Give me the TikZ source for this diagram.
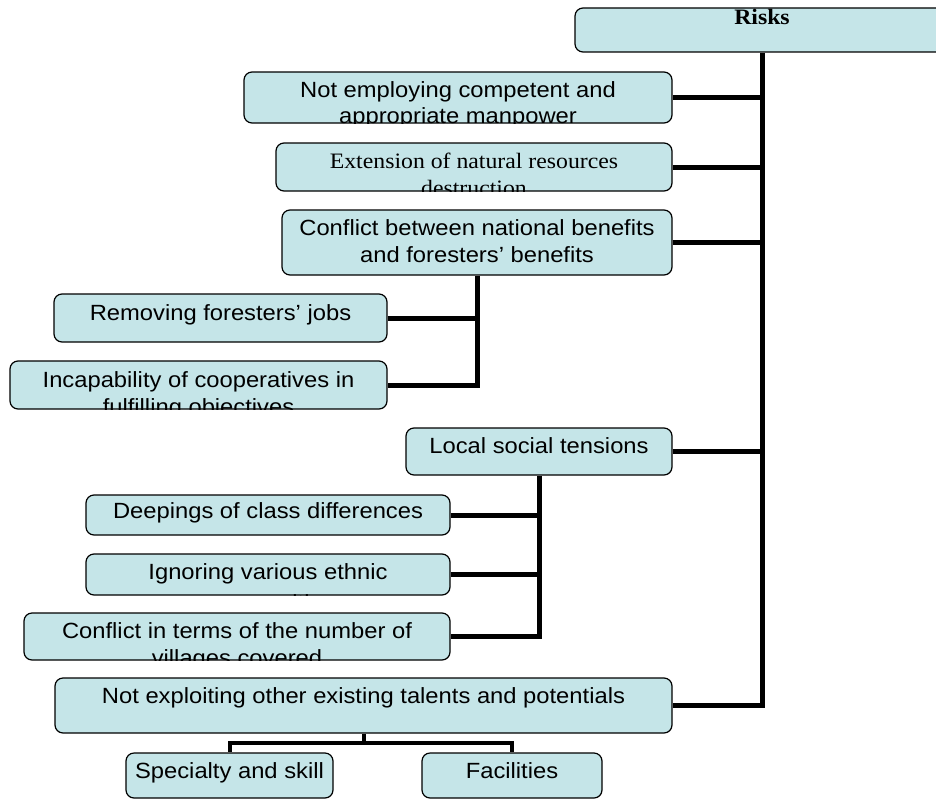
\documentclass[tikz,border=0pt]{standalone}
\usepackage{fontspec}
\setmainfont{Liberation Sans}[FakeStretch=1.08]
\newfontfamily\romanwide{Liberation Serif}[FakeStretch=1.08]
\usetikzlibrary{calc,backgrounds}
\definecolor{boxfill}{RGB}{197,229,232}

\tikzset{
  riskbox/.style={rectangle, draw=black, line width=1.2pt, fill=boxfill,
    rounded corners=8pt, inner sep=0pt},
  conn/.style={line width=5pt, draw=black},
  boxlabel/.style={anchor=base, inner sep=0pt,
    font=\fontsize{22pt}{26pt}\selectfont},
}

% #1 name, #2 centre x, #3 centre y, #4 width, #5 height,
% #6 top edge to first baseline, #7 first line,
% #8 top edge to second baseline, #9 second line (both clipped to the box)
\newcommand\riskitem[9]{%
  \node[riskbox, minimum width=#4pt, minimum height=#5pt,
    path picture={%
      \node[boxlabel] at ([yshift=-#6pt]path picture bounding box.north) {#7};
      \node[boxlabel] at ([yshift=-#8pt]path picture bounding box.north) {#9};}]
    (#1) at (#2,#3) {};}

\begin{document}
\begin{tikzpicture}[x=1pt, y=-1pt]
  \useasboundingbox (0,0) rectangle (936,800);
  \clip (0,0) rectangle (936,800);

  \riskitem{risks}{762}{30}{374}{44}{17}{\romanwide\bfseries Risks}{60}{}
  \riskitem{emp}{458}{97.5}{428}{51}{25}{Not employing competent and}{51}{appropriate manpower}
  \riskitem{ext}{474}{167}{396}{48}{25}{\romanwide Extension of natural resources}{52}{\romanwide destruction}
  \riskitem{cnat}{477}{242.5}{390}{65}{25}{Conflict between national benefits}{52}{and foresters’ benefits}
  \riskitem{remove}{220.5}{318}{333}{48}{26}{Removing foresters’ jobs}{80}{}
  \riskitem{incap}{198.5}{385}{377}{48}{26}{Incapability of cooperatives in}{53}{fulfilling objectives}
  \riskitem{local}{539}{451.5}{266}{47}{25}{Local social tensions}{80}{}
  \riskitem{deep}{268}{515}{364}{40}{23}{Deepings of class differences}{80}{}
  \riskitem{ignore}{268}{574.5}{364}{41}{25}{Ignoring various ethnic}{56}{communities}
  \riskitem{cterms}{237}{636.5}{426}{47}{25}{Conflict in terms of the number of}{52}{villages covered}
  \riskitem{notexp}{363.5}{705.5}{617}{55}{25}{Not exploiting other existing talents and potentials}{80}{}
  \riskitem{spec}{229.5}{775.5}{207}{45}{25}{Specialty and skill}{80}{}
  \riskitem{fac}{512}{775.5}{180}{45}{25}{Facilities}{80}{}

  \coordinate (fork) at ($(notexp.south)!0.5!(notexp.south |- spec.north)$);

  \begin{scope}[on background layer]
    % main trunk from the root down to the last branch
    \draw[conn] (risks.south) |- (notexp.east);
    \draw[conn] (emp.east) -- (emp.east -| risks.south);
    \draw[conn] (ext.east) -- (ext.east -| risks.south);
    \draw[conn] (cnat.east) -- (cnat.east -| risks.south);
    \draw[conn] (local.east) -- (local.east -| risks.south);
    % branches of the national/foresters conflict
    \draw[conn] (cnat.south) |- (incap.east);
    \draw[conn] (remove.east) -- (remove.east -| cnat.south);
    % branches of local social tensions
    \draw[conn] (local.south) |- (cterms.east);
    \draw[conn] (deep.east) -- (deep.east -| local.south);
    \draw[conn] (ignore.east) -- (ignore.east -| local.south);
    % fork below the last item
    \draw[conn, line width=4pt] (notexp.south) -- (fork) -| (spec.north);
    \draw[conn, line width=4pt] (fork) -| (fac.north);
  \end{scope}
\end{tikzpicture}
\end{document}
